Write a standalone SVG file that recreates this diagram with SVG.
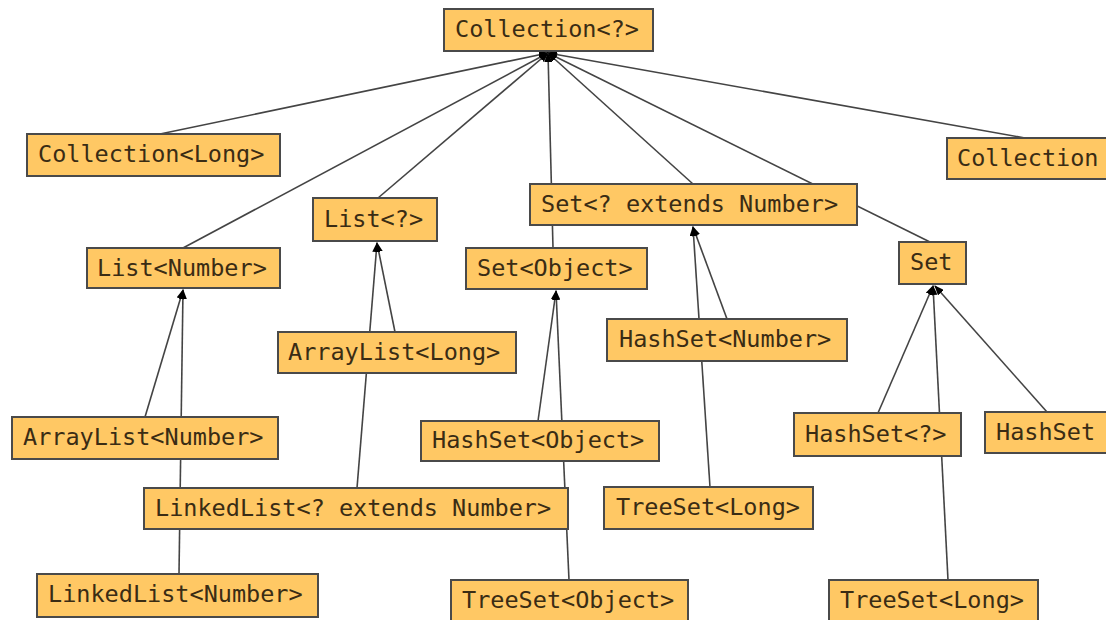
<svg xmlns="http://www.w3.org/2000/svg" width="1106" height="620" viewBox="0 0 1106 620">
  <style>
    .box { fill: #FFC864; stroke: #4a4a4a; stroke-width: 2; }
    .lbl { font-family: "DejaVu Sans Mono", "Liberation Mono", monospace; font-size: 23.5px; fill: #3a2c14; }
    .edge { stroke: #444; stroke-width: 1.6; fill: none; marker-end: url(#tip); }
  </style>
  <defs>
    <marker id="tip" markerUnits="userSpaceOnUse" markerWidth="10" markerHeight="8" refX="9" refY="4" orient="auto">
      <path d="M0,0 L10,4 L0,8 z" fill="#000"/>
    </marker>
  </defs>
  <rect width="1106" height="620" fill="#fff"/>

  <!-- inheritance edges: child to parent, arrow at the parent -->
  <g id="connectors">
    <line class="edge" x1="160" y1="134" x2="548" y2="53"/>
    <line class="edge" x1="183" y1="248" x2="548" y2="53"/>
    <line class="edge" x1="378" y1="198" x2="548" y2="53"/>
    <line class="edge" x1="553" y1="248" x2="548" y2="53"/>
    <line class="edge" x1="693" y1="184" x2="548" y2="53"/>
    <line class="edge" x1="930" y1="242" x2="548" y2="53"/>
    <line class="edge" x1="1025" y1="138" x2="548" y2="53"/>

    <line class="edge" x1="145" y1="417" x2="183" y2="290"/>
    <line class="edge" x1="179" y1="574" x2="183" y2="290"/>

    <line class="edge" x1="395" y1="332" x2="377" y2="243"/>
    <line class="edge" x1="357" y1="488" x2="377" y2="243"/>

    <line class="edge" x1="538" y1="421" x2="556" y2="291"/>
    <line class="edge" x1="569" y1="580" x2="556" y2="291"/>

    <line class="edge" x1="727" y1="319" x2="693" y2="227"/>
    <line class="edge" x1="710" y1="487" x2="693" y2="227"/>

    <line class="edge" x1="878" y1="413" x2="933" y2="286"/>
    <line class="edge" x1="948" y1="580" x2="933" y2="286"/>
    <line class="edge" x1="1047" y1="412" x2="935" y2="286"/>
  </g>

  <g id="coll_any"><rect class="box" x="444" y="9" width="209" height="42"/><text class="lbl" x="455" y="37">Collection&lt;?&gt;</text></g>
  <g id="coll_long"><rect class="box" x="27" y="134" width="253" height="42"/><text class="lbl" x="38" y="162">Collection&lt;Long&gt;</text></g>
  <g id="list_number"><rect class="box" x="87" y="248" width="193" height="40"/><text class="lbl" x="97" y="276">List&lt;Number&gt;</text></g>
  <g id="list_any"><rect class="box" x="313" y="198" width="124" height="43"/><text class="lbl" x="324" y="227">List&lt;?&gt;</text></g>
  <g id="set_ext"><rect class="box" x="530" y="184" width="327" height="41"/><text class="lbl" x="541" y="212">Set&lt;? extends Number&gt;</text></g>
  <g id="coll_right"><rect class="box" x="947" y="138" width="170" height="41"/><text class="lbl" x="957" y="166">Collection</text></g>
  <g id="set_object"><rect class="box" x="466" y="248" width="181" height="41"/><text class="lbl" x="477" y="276">Set&lt;Object&gt;</text></g>
  <g id="set_raw"><rect class="box" x="899" y="242" width="67" height="42"/><text class="lbl" x="910" y="270">Set</text></g>
  <g id="arraylist_long"><rect class="box" x="278" y="332" width="238" height="41"/><text class="lbl" x="288" y="360">ArrayList&lt;Long&gt;</text></g>
  <g id="hashset_number"><rect class="box" x="607" y="319" width="240" height="42"/><text class="lbl" x="619" y="347">HashSet&lt;Number&gt;</text></g>
  <g id="arraylist_number"><rect class="box" x="12" y="417" width="266" height="42"/><text class="lbl" x="23" y="445">ArrayList&lt;Number&gt;</text></g>
  <g id="hashset_object"><rect class="box" x="421" y="421" width="238" height="40"/><text class="lbl" x="432" y="448">HashSet&lt;Object&gt;</text></g>
  <g id="hashset_any"><rect class="box" x="794" y="413" width="167" height="43"/><text class="lbl" x="805" y="442">HashSet&lt;?&gt;</text></g>
  <g id="hashset_raw"><rect class="box" x="985" y="412" width="130" height="41"/><text class="lbl" x="996" y="440">HashSet</text></g>
  <g id="linkedlist_ext"><rect class="box" x="144" y="488" width="424" height="41"/><text class="lbl" x="155" y="516">LinkedList&lt;? extends Number&gt;</text></g>
  <g id="treeset_long_mid"><rect class="box" x="604" y="487" width="209" height="42"/><text class="lbl" x="616" y="515">TreeSet&lt;Long&gt;</text></g>
  <g id="linkedlist_number"><rect class="box" x="37" y="574" width="281" height="43"/><text class="lbl" x="48" y="602">LinkedList&lt;Number&gt;</text></g>
  <g id="treeset_object"><rect class="box" x="451" y="580" width="237" height="42"/><text class="lbl" x="462" y="608">TreeSet&lt;Object&gt;</text></g>
  <g id="treeset_long_right"><rect class="box" x="829" y="580" width="209" height="42"/><text class="lbl" x="840" y="608">TreeSet&lt;Long&gt;</text></g>
</svg>
